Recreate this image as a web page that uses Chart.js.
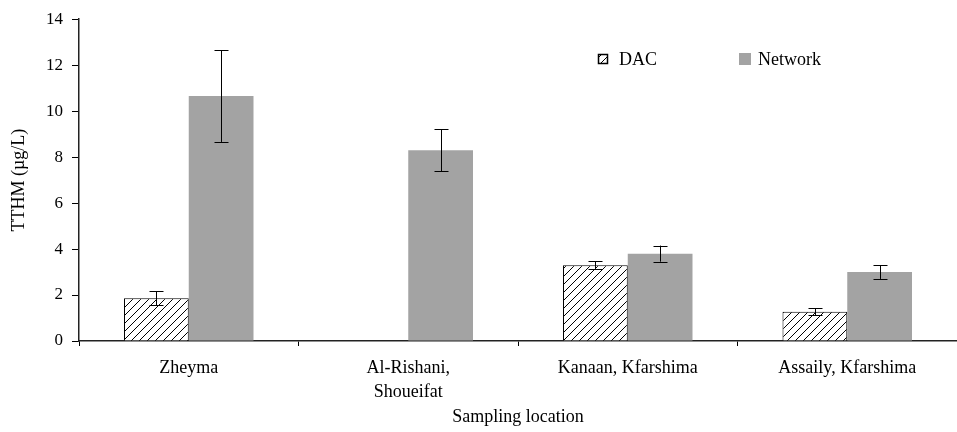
<!DOCTYPE html>
<html>
<head>
<meta charset="utf-8">
<script src="https://cdn.jsdelivr.net/npm/chart.js@4.4.1/dist/chart.umd.min.js"></script>
<style>
  html, body { margin: 0; padding: 0; background: #fff; }
  #wrap { width: 957px; height: 432px; }
</style>
</head>
<body>
<div id="wrap"><canvas id="chart"></canvas></div>
<script>
// data
const locations = ['Zheyma', ['Al-Rishani,', 'Shoueifat'], 'Kanaan, Kfarshima', 'Assaily, Kfarshima'];
const dacValues = [1.86, null, 3.3, 1.27];
const dacErrors = [0.3, null, 0.18, 0.15];
const networkValues = [10.66, 8.3, 3.8, 3.0];
const networkErrors = [2.0, 0.92, 0.35, 0.3];
const yTicks = [0, 2, 4, 6, 8, 10, 12, 14];

const FONT = 'Liberation Serif, "Times New Roman", serif';
const GREY = '#a3a3a3';

// diagonal hatch for the DAC bars
function hatchPattern() {
    const s = 8;
    const c = document.createElement('canvas');
    c.width = s; c.height = s;
    const g = c.getContext('2d');
    g.fillStyle = '#fff';
    g.fillRect(0, 0, s, s);
    g.strokeStyle = '#000';
    g.lineWidth = 1;
    g.beginPath();
    g.moveTo(0, s); g.lineTo(s, 0);
    g.moveTo(-1, 1); g.lineTo(1, -1);
    g.moveTo(s - 1, s + 1); g.lineTo(s + 1, s - 1);
    g.stroke();
    return g.createPattern(c, 'repeat');
}
const hatch = hatchPattern();

// error bars drawn from the error arrays through the y scale
const errorBars = {
    id: 'errorBars',
    afterDatasetsDraw(chart) {
        const ctx = chart.ctx;
        const y = chart.scales.y;
        ctx.save();
        ctx.strokeStyle = '#000';
        ctx.lineWidth = 1;
        chart.data.datasets.forEach((ds, i) => {
            const meta = chart.getDatasetMeta(i);
            meta.data.forEach((bar, j) => {
                const v = ds.data[j], e = ds.errors[j];
                if (v == null || e == null) return;
                const x = Math.round(bar.x) + 0.5;
                const top = y.getPixelForValue(v + e);
                const bot = y.getPixelForValue(v - e);
                ctx.beginPath();
                ctx.moveTo(x, top); ctx.lineTo(x, bot);
                ctx.moveTo(x - 7, Math.round(top) + 0.5); ctx.lineTo(x + 7, Math.round(top) + 0.5);
                ctx.moveTo(x - 7, Math.round(bot) + 0.5); ctx.lineTo(x + 7, Math.round(bot) + 0.5);
                ctx.stroke();
            });
        });
        ctx.restore();
    }
};

// legend sitting inside the plot, top right
const insideLegend = {
    id: 'insideLegend',
    afterDraw(chart) {
        const ctx = chart.ctx;
        const items = [
            { x: 598, size: 10, fill: hatch, border: true, text: chart.data.datasets[0].label },
            { x: 739, size: 12, fill: GREY, border: false, text: chart.data.datasets[1].label }
        ];
        ctx.save();
        ctx.font = '18px ' + FONT;
        ctx.textBaseline = 'middle';
        items.forEach(it => {
            const top = 59 - it.size / 2;
            ctx.fillStyle = it.fill;
            ctx.fillRect(it.x, top, it.size, it.size);
            if (it.border) {
                ctx.strokeStyle = '#000';
                ctx.lineWidth = 1.5;
                ctx.strokeRect(it.x + 0.5, top + 0.5, it.size - 1, it.size - 1);
            }
            ctx.fillStyle = '#000';
            ctx.fillText(it.text, it.x + (it.border ? 21 : 19), 60);
        });
        ctx.restore();
    }
};

new Chart(document.getElementById('chart'), {
    type: 'bar',
    data: {
        labels: locations,
        datasets: [
            {
                label: 'DAC',
                data: dacValues,
                errors: dacErrors,
                backgroundColor: hatch,
                borderColor: '#000',
                borderWidth: 1,
                borderSkipped: 'bottom'
            },
            {
                label: 'Network',
                data: networkValues,
                errors: networkErrors,
                backgroundColor: GREY,
                borderWidth: 0
            }
        ]
    },
    options: {
        responsive: true,
        maintainAspectRatio: false,
        animation: false,
        layout: { padding: { top: 15, right: 0, bottom: 4, left: 6 } },
        categoryPercentage: 0.59,
        barPercentage: 1.0,
        plugins: {
            legend: { display: false },
            tooltip: { enabled: false }
        },
        scales: {
            x: {
                offset: true,
                grid: { offset: true, drawOnChartArea: false, tickLength: 5, color: '#000', lineWidth: 1 },
                border: { color: '#222', width: 1.5 },
                ticks: { color: '#000', font: { family: FONT, size: 18, lineHeight: 1.35 }, padding: 10, maxRotation: 0, autoSkip: false },
                title: { display: true, text: 'Sampling location', color: '#000', font: { family: FONT, size: 18 }, padding: { top: 2, bottom: 0 } },
                afterFit(scale) { scale.height = 87; }
            },
            y: {
                min: 0,
                max: 14,
                afterBuildTicks(scale) { scale.ticks = yTicks.map(v => ({ value: v })); },
                grid: { drawOnChartArea: false, tickLength: 7, color: '#000', lineWidth: 1 },
                border: { color: '#222', width: 1.5 },
                ticks: { color: '#000', font: { family: FONT, size: 17 }, padding: 9 },
                title: { display: true, text: 'TTHM (µg/L)', color: '#000', font: { family: FONT, size: 18 }, padding: { top: 2, bottom: 0 } },
                afterFit(scale) { scale.width = 73; }
            }
        }
    },
    plugins: [errorBars, insideLegend]
});
</script>
</body>
</html>
